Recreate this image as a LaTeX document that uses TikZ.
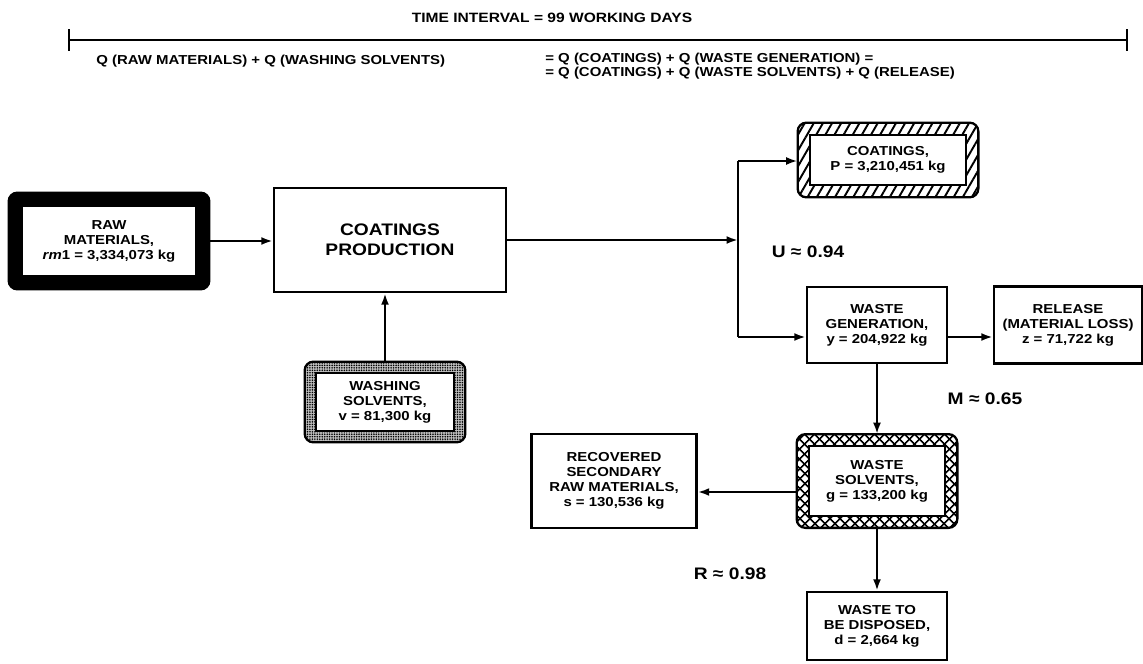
\documentclass[tikz,border=0pt]{standalone}
\usepackage{fontspec}
\setmainfont{Liberation Sans}[FakeStretch=1.15]
\usetikzlibrary{arrows.meta, patterns.meta}

\newcommand{\boxfont}{\fontsize{7.4}{8.5}\selectfont\bfseries}
\newcommand{\bigfont}{\fontsize{9.5}{11.4}\selectfont\bfseries}
% band round a node: node name, band width, band fill
\newcommand{\bandframe}[3]{%
  \fill[#3, even odd rule, rounded corners=5pt] (#1.north west) rectangle (#1.south east)
    [sharp corners] ([shift={(#2,#2)}]#1.north west) rectangle ([shift={(-#2,-#2)}]#1.south east);
  \draw[line width=1.3pt, rounded corners=5pt] (#1.north west) rectangle (#1.south east);
  \draw[line width=1.1pt] ([shift={(#2,#2)}]#1.north west) rectangle ([shift={(-#2,-#2)}]#1.south east);
}

\tikzset{
  flow/.style={line width=1.3pt, -{Latex[length=6.5pt, width=4.5pt]}},
  plainbox/.style={draw, line width=1.4pt, align=center, inner sep=0pt, font=\boxfont},
  bandbox/.style={align=center, inner sep=0pt, font=\boxfont},
  ratio/.style={font=\bigfont},
}

\begin{document}
\begin{tikzpicture}[x=0.02cm, y=-0.02cm]
  \fill[white] (0,0) rectangle (1143,663);
  \useasboundingbox (0,0) rectangle (1143,663);

  % balance over the time interval
  \node[font=\fontsize{7.7}{9}\selectfont\bfseries] (title) at (552,18) {TIME INTERVAL = 99 WORKING DAYS};
  \coordinate (spanL) at (68,40);
  \coordinate (spanR) at (1128,40);
  \draw[line width=1.2pt, {Bar[width=12pt]}-{Bar[width=12pt]}] (spanL) -- (spanR);
  \node[font=\boxfont, anchor=west, inner sep=0pt] (inputs) at (96,61) {Q (RAW MATERIALS) + Q (WASHING SOLVENTS)};
  \node[font=\fontsize{7.4}{6.5}\selectfont\bfseries, anchor=west, align=left, inner sep=0pt] (outputs) at (545,66)
    {= Q (COATINGS) + Q (WASTE GENERATION) =\\= Q (COATINGS) + Q (WASTE SOLVENTS) + Q (RELEASE)};

  % boxes
  \node[bandbox, minimum width=200*0.02cm, minimum height=96*0.02cm] (raw) at (109,241)
    {RAW\\MATERIALS,\\\textit{rm}1 = 3,334,073 kg};
  \node[plainbox, font=\bigfont, minimum width=232*0.02cm, minimum height=104*0.02cm] (production) at (390,240)
    {COATINGS\\PRODUCTION};
  \node[bandbox, minimum width=160*0.02cm, minimum height=80*0.02cm] (washing) at (385,402)
    {WASHING\\SOLVENTS,\\v = 81,300 kg};
  \node[bandbox, minimum width=180*0.02cm, minimum height=74*0.02cm] (coatings) at (888,160)
    {COATINGS,\\P = 3,210,451 kg};
  \node[plainbox, minimum width=140*0.02cm, minimum height=76*0.02cm] (wastegen) at (877,325)
    {WASTE\\GENERATION,\\y = 204,922 kg};
  \node[plainbox, minimum width=148*0.02cm, minimum height=77*0.02cm] (release) at (1068,325)
    {RELEASE\\(MATERIAL LOSS)\\z = 71,722 kg};
  \node[bandbox, minimum width=160*0.02cm, minimum height=93*0.02cm] (solvents) at (877,481)
    {WASTE\\SOLVENTS,\\g = 133,200 kg};
  \node[plainbox, minimum width=165*0.02cm, minimum height=94*0.02cm] (recovered) at (614,481)
    {RECOVERED\\SECONDARY\\RAW MATERIALS,\\s = 130,536 kg};
  \node[plainbox, minimum width=140*0.02cm, minimum height=68*0.02cm] (disposed) at (877,626)
    {WASTE TO\\BE DISPOSED,\\d = 2,664 kg};

  \bandframe{raw}{13}{fill=black}
  \bandframe{washing}{11}{fill=black!25, postaction={pattern={Dots[distance=1.4pt, radius=0.5pt]}}}
  \bandframe{coatings}{12}{pattern={Lines[angle=60, distance=4.5pt, line width=1.1pt]}}
  \bandframe{solvents}{12}{pattern={Lines[angle=45, distance=4pt, line width=1pt]}, postaction={pattern={Lines[angle=-45, distance=4pt, line width=1pt]}}}

  % ratios
  \node[ratio] (uratio) at (808,252) {U ≈ 0.94};
  \node[ratio] (mratio) at (985,399) {M ≈ 0.65};
  \node[ratio] (rratio) at (730,574) {R ≈ 0.98};

  % flows
  \coordinate (split) at (738,240);
  \coordinate (vtop) at (738,161);
  \coordinate (vbot) at (738,337);
  \coordinate (recline) at (700,492);
  \draw[flow] (raw.east) -- (raw.east -| production.west);
  \draw[flow] (washing.north) -- (washing.north |- production.south);
  \draw[flow] (production.east |- split) -- (split);
  \draw[line width=1.3pt] (vtop) -- (vbot);
  \draw[flow] (vtop) -- (vtop -| coatings.west);
  \draw[flow] (vbot) -- (vbot -| wastegen.west);
  \draw[flow] (wastegen.east |- vbot) -- (release.west |- vbot);
  \draw[flow] (wastegen.south) -- (solvents.north);
  \draw[flow] (solvents.west |- recline) -- (recovered.east |- recline);
  \draw[flow] (solvents.south) -- (disposed.north);
\end{tikzpicture}
\end{document}
